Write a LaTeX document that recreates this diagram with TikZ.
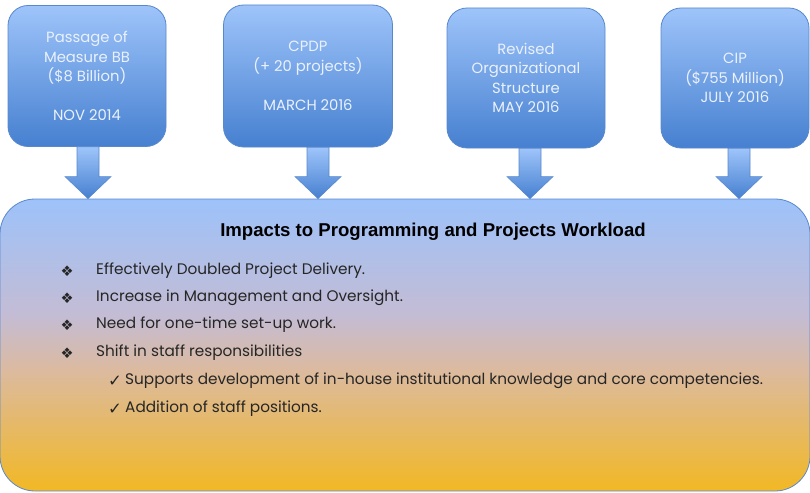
\documentclass[tikz,border=0pt]{standalone}
\usepackage{fontspec}
\setmainfont{Poppins}
\newfontfamily\titlefont{Liberation Sans}
\newfontfamily\symfont{DejaVu Sans}
\usetikzlibrary{calc}

\definecolor{boxtop}{RGB}{158,196,250}
\definecolor{boxbot}{RGB}{70,128,208}
\definecolor{boxline}{RGB}{88,136,204}
\definecolor{boxtext}{RGB}{234,241,252}
\definecolor{bigtop}{RGB}{157,194,250}
\definecolor{biglav}{RGB}{196,188,212}
\definecolor{bigpeach}{RGB}{220,186,158}
\definecolor{bigbot}{RGB}{242,184,36}
\definecolor{bodytext}{RGB}{38,38,38}

% blue to gold fill of the impact box
\pgfdeclareverticalshading{impactfill}{100bp}{color(0bp)=(bigbot); color(25bp)=(bigbot); color(45.5bp)=(bigpeach);
  color(55bp)=(biglav); color(75bp)=(bigtop); color(100bp)=(bigtop)}

\tikzset{
  event/.style={draw=boxline,line width=0.8pt,rounded corners=20pt,top color=boxtop,bottom color=boxbot,
    text=boxtext,align=center,font=\fontsize{14.8}{19.5}\selectfont,inner sep=0pt},
  blockarrow/.style={draw=boxline,line width=0.6pt,top color=boxtop,bottom color=boxbot},
  bullet/.style={anchor=west,text=bodytext,font=\fontsize{15.3}{17}\selectfont,inner sep=0pt},
  glyph/.style={text=bodytext,font=\symfont\fontsize{14.5}{15}\selectfont,inner sep=0pt},
  tick/.style={text=bodytext,font=\symfont\fontsize{16.5}{17}\selectfont,inner sep=0pt}
}

\begin{document}
\begin{tikzpicture}[x=1pt,y=-1pt]
  \useasboundingbox (0,0) rectangle (810,492);

  % impact box
  \node[draw=boxline,line width=0.8pt,rounded corners=35pt,shading=impactfill,
        minimum width=810pt,minimum height=292pt,inner sep=0pt] (impact) at (405,345) {};

  % event boxes
  \node[event,minimum width=158pt,minimum height=141pt] (p1) at (87,76) {Passage of\\Measure BB\\(\$8 Billion)\\[19.5pt]NOV 2014};
  \node[event,minimum width=169pt,minimum height=142pt] (p2) at (308,76) {CPDP\\(+ 20 projects)\\[19.5pt]MARCH 2016};
  \node[event,minimum width=158pt,minimum height=140pt] (p3) at (526,78) {Revised\\Organizational\\Structure\\MAY 2016};
  \node[event,minimum width=148pt,minimum height=140pt] (p4) at (735,78) {CIP\\(\$755 Million)\\JULY 2016};

  % block arrows down to the impact box
  \foreach \b/\dx in {p1/1,p2/10,p3/4,p4/4}{
    \coordinate (s\b) at ($(\b.south)+(\dx,0)$);
    \coordinate (t\b) at (s\b |- impact.north);
    \coordinate (h\b) at ($(t\b)+(0,-22)$);
    \draw[blockarrow] ($(s\b)+(-11,0)$) -- ($(h\b)+(-11,0)$) -- ($(h\b)+(-23,0)$) -- (t\b)
      -- ($(h\b)+(23,0)$) -- ($(h\b)+(11,0)$) -- ($(s\b)+(11,0)$) -- cycle;
  }

  \node[font=\titlefont\bfseries\fontsize{18.6}{22}\selectfont,inner sep=0pt] (title) at (433,232) {Impacts to Programming and Projects Workload};

  \node[glyph] (m1) at (67,271) {❖};
  \node[glyph] (m2) at (67,298) {❖};
  \node[glyph] (m3) at (67,325) {❖};
  \node[glyph] (m4) at (67,353) {❖};
  \node[bullet] (l1) at (96,271) {Effectively Doubled Project Delivery.};
  \node[bullet] (l2) at (96,298) {Increase in Management and Oversight.};
  \node[bullet] (l3) at (96,325) {Need for one-time set-up work.};
  \node[bullet] (l4) at (96,353) {Shift in staff responsibilities};

  \node[tick] (c1) at (115,381) {✓};
  \node[tick] (c2) at (115,409) {✓};
  \node[bullet] (l5) at (125,381) {Supports development of in-house institutional knowledge and core competencies.};
  \node[bullet] (l6) at (125,409) {Addition of staff positions.};

\end{tikzpicture}
\end{document}
